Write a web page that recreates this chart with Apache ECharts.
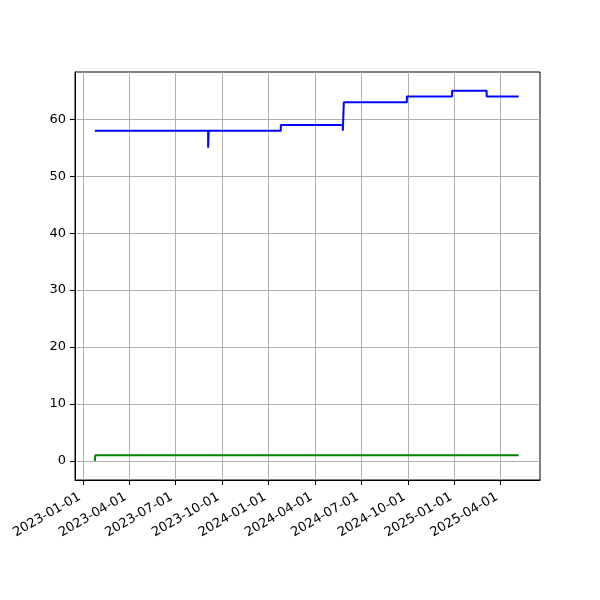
<!DOCTYPE html>
<html>
<head>
<meta charset="utf-8">
<script src="https://cdn.jsdelivr.net/npm/echarts@6/dist/echarts.min.js"></script>
<style>html,body{margin:0;padding:0;background:#fff}#c{width:600px;height:600px}</style>
</head>
<body>
<div id="c"></div>
<script>
// Change points (value holds until next date)
var blueDates  = ['2023-01-24','2023-09-04','2023-09-05','2024-01-25','2024-05-26','2024-05-28','2024-09-29','2024-12-27','2025-03-05','2025-05-07'];
var blueValues = [58, 55, 58, 59, 58, 63, 64, 65, 64, 64];
var greenDates  = ['2023-01-24','2023-01-25','2025-05-07'];
var greenValues = [0, 1, 1];
var xTickLabels = ['2023-01-01','2023-04-01','2023-07-01','2023-10-01','2024-01-01','2024-04-01','2024-07-01','2024-10-01','2025-01-01','2025-04-01'];
var yTicks = [0, 10, 20, 30, 40, 50, 60];
var xMin = '2022-12-16', xMax = '2025-06-18';
var yMin = -3.34, yMax = 68.3;

function ts(s){ var p = s.split('-'); return Date.UTC(+p[0], +p[1]-1, +p[2]); }
function pairs(d, v){ return d.map(function(x,i){ return [ts(x), v[i]]; }); }
function fmt(v){ var d = new Date(v); function z(n){return (n<10?'0':'')+n;} return d.getUTCFullYear()+'-'+z(d.getUTCMonth()+1)+'-'+z(d.getUTCDate()); }

var FONT = 'DejaVu Sans';
var chart = echarts.init(document.getElementById('c'), null, {renderer:'canvas'});
var xTickVals = xTickLabels.map(ts);
chart.setOption({
  animation: false,
  backgroundColor: '#fff',
  grid: {left: 75, right: 60, top: 72, bottom: 120, show: true, borderColor: '#000', borderWidth: 1, backgroundColor: 'transparent', containLabel: false},
  xAxis: {
    type: 'value', min: ts(xMin), max: ts(xMax),
    axisLine: {show: true, onZero: false, lineStyle: {color: '#000', width: 1}},
    axisTick: {show: true, length: 5, lineStyle: {color: '#000', width: 1}, customValues: xTickVals},
    axisLabel: {show: true, rotate: 30, margin: 14, padding: [0, 4, 0, 0], color: '#000', fontFamily: FONT, fontSize: 13,
      customValues: xTickVals, formatter: fmt},
    splitLine: {show: true, lineStyle: {color: '#b0b0b0', width: 1}}
  },
  yAxis: {
    type: 'value', min: yMin, max: yMax,
    axisLine: {show: true, onZero: false, lineStyle: {color: '#000', width: 1}},
    axisTick: {show: true, length: 5, lineStyle: {color: '#000', width: 1}, customValues: yTicks},
    axisLabel: {show: true, margin: 9, color: '#000', fontFamily: FONT, fontSize: 13, customValues: yTicks},
    splitLine: {show: true, lineStyle: {color: '#b0b0b0', width: 1}}
  },
  series: [
    {type: 'line', step: 'end', data: pairs(blueDates, blueValues), showSymbol: false, symbol: 'none',
      lineStyle: {color: '#0000ff', width: 2}, itemStyle: {color: '#0000ff'}},
    {type: 'line', step: 'end', data: pairs(greenDates, greenValues), showSymbol: false, symbol: 'none',
      lineStyle: {color: '#008000', width: 2}, itemStyle: {color: '#008000'}}
  ]
});
</script>
</body>
</html>
